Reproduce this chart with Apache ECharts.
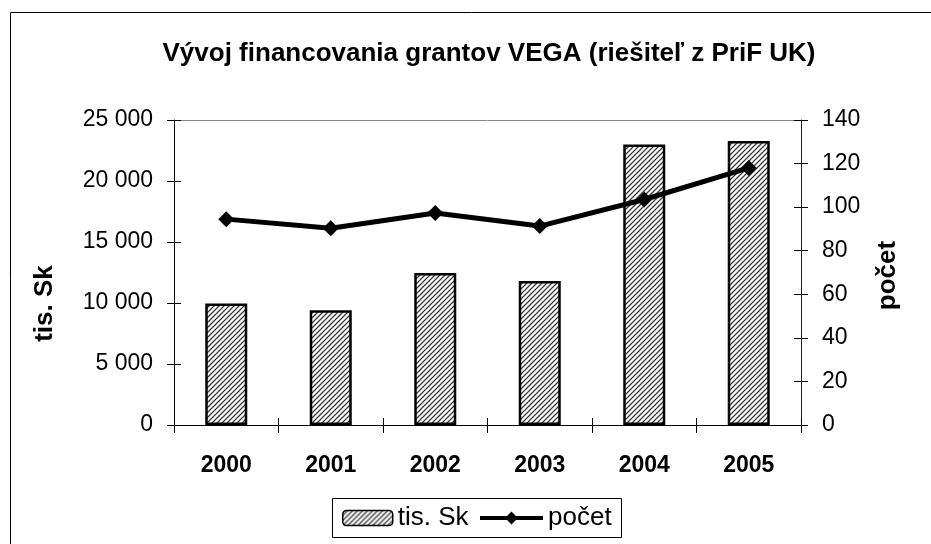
<!DOCTYPE html>
<html>
<head lang="sk">
    <meta charset="UTF-8">
    <title>Vývoj financovania grantov VEGA</title>
    <script src="https://cdn.jsdelivr.net/npm/echarts@6/dist/echarts.min.js"></script>
    <style>
        html, body { margin: 0; padding: 0; background: #fff; }
        #chart { width: 931px; height: 544px; }
    </style>
</head>
<body>
<div id="chart"></div>
<script>
    // data
    var years = ['2000', '2001', '2002', '2003', '2004', '2005'];
    var sumaTisSk = [9950, 9400, 12450, 11800, 23000, 23280];
    var pocet = [94.5, 90.3, 97.3, 91.3, 103.5, 118];

    // diagonal hatch like the old excel pattern
    function hatch() {
        var c = document.createElement('canvas');
        c.width = 10; c.height = 10;
        var g = c.getContext('2d');
        g.fillStyle = '#fff';
        g.fillRect(0, 0, 10, 10);
        g.strokeStyle = '#3a3a3a';
        g.lineWidth = 1.3;
        g.beginPath();
        for (var k = -10; k <= 20; k += 5) {
            g.moveTo(k - 2, 12); g.lineTo(k + 12, -2);
        }
        g.stroke();
        return c;
    }

    var myChart = echarts.init(document.getElementById('chart'));
    var font = 'Liberation Sans, Arial, sans-serif';
    var pattern = { image: hatch(), repeat: 'repeat' };

    function tickLabel(v) {
        return v >= 1000 ? Math.floor(v / 1000) + ' 000' : v;
    }

    var option = {
        animation: false,
        textStyle: { fontFamily: font },
        title: {
            text: 'Vývoj financovania grantov VEGA (riešiteľ z PriF UK)',
            left: 484, top: 36, textAlign: 'center',
            textStyle: { fontSize: 26, fontWeight: 'bold', color: '#000', fontFamily: font }
        },
        graphic: [{
            type: 'rect', silent: true, z: -1,
            shape: { x: 10.5, y: 12.5, width: 940, height: 560 },
            style: { fill: 'none', stroke: '#000', lineWidth: 1 }
        }, {
            // top frame of the plot area
            type: 'line', silent: true,
            shape: { x1: 174, y1: 120.5, x2: 801, y2: 120.5 },
            style: { stroke: '#888', lineWidth: 1 }
        }, {
            // legend frame
            type: 'rect', silent: true,
            shape: { x: 332.5, y: 498.5, width: 289, height: 39 },
            style: { fill: 'none', stroke: '#000', lineWidth: 1 }
        }],
        legend: [{
            data: ['tis. Sk'],
            left: 342, top: 505,
            padding: 0,
            itemWidth: 50, itemHeight: 15,
            itemStyle: { borderColor: '#000', borderWidth: 1.5 },
            textStyle: { fontSize: 26, color: '#000', fontFamily: font }
        }, {
            data: ['počet'],
            left: 478, top: 505,
            padding: 0,
            itemWidth: 63, itemHeight: 16,
            lineStyle: { width: 4, color: '#000' },
            textStyle: { fontSize: 26, color: '#000', fontFamily: font }
        }],
        grid: { left: 174, right: 130, top: 120, bottom: 119 },
        xAxis: [{
            type: 'category',
            data: years,
            axisLine: { lineStyle: { color: '#000', width: 1 } },
            axisTick: { show: true, length: 8, lineStyle: { color: '#000' } },
            axisLabel: { fontSize: 23, fontWeight: 'bold', color: '#000', margin: 29 }
        }, {
            // inner half of the crossing ticks
            type: 'category',
            data: years,
            position: 'bottom',
            axisLine: { show: false },
            axisTick: { show: true, inside: true, length: 7, lineStyle: { color: '#000' } },
            axisLabel: { show: false }
        }],
        yAxis: [{
            type: 'value',
            min: 0, max: 25000, interval: 5000,
            name: 'tis. Sk',
            nameLocation: 'middle',
            nameMoveOverlap: false,
            nameGap: 116,
            nameRotate: 90,
            nameTextStyle: { fontSize: 26, fontWeight: 'bold', color: '#000', padding: [0, 62, 0, 0] },
            axisLine: { show: true, lineStyle: { color: '#000' } },
            axisTick: { show: true, length: 7, lineStyle: { color: '#000' } },
            axisLabel: { fontSize: 23, color: '#000', margin: 21, formatter: tickLabel },
            splitLine: { show: false }
        }, {
            type: 'value',
            min: 0, max: 140, interval: 20,
            name: 'počet',
            nameLocation: 'middle',
            nameMoveOverlap: false,
            nameGap: 74,
            nameRotate: 90,
            nameTextStyle: { fontSize: 26, fontWeight: 'bold', color: '#000', padding: [0, 6, 0, 0] },
            axisLine: { show: true, lineStyle: { color: '#222' } },
            axisTick: { show: true, length: 7, lineStyle: { color: '#000' } },
            axisLabel: { fontSize: 23, color: '#000', margin: 21 },
            splitLine: { show: false }
        }, {
            type: 'value', position: 'left',
            min: 0, max: 25000, interval: 5000,
            axisLine: { show: false },
            axisTick: { show: true, inside: true, length: 7, lineStyle: { color: '#000' } },
            axisLabel: { show: false },
            splitLine: { show: false }
        }, {
            type: 'value', position: 'right',
            min: 0, max: 140, interval: 20,
            axisLine: { show: false },
            axisTick: { show: true, inside: true, length: 7, lineStyle: { color: '#000' } },
            axisLabel: { show: false },
            splitLine: { show: false }
        }],
        series: [{
            name: 'tis. Sk',
            type: 'bar',
            data: sumaTisSk,
            barWidth: 42,
            itemStyle: {
                color: pattern,
                borderColor: '#000', borderWidth: 2.5
            }
        }, {
            name: 'počet',
            type: 'line',
            yAxisIndex: 1,
            data: pocet,
            symbol: 'diamond',
            symbolSize: 16,
            lineStyle: { color: '#000', width: 5 },
            itemStyle: { color: '#000' }
        }]
    };

    myChart.setOption(option);
</script>
</body>
</html>
